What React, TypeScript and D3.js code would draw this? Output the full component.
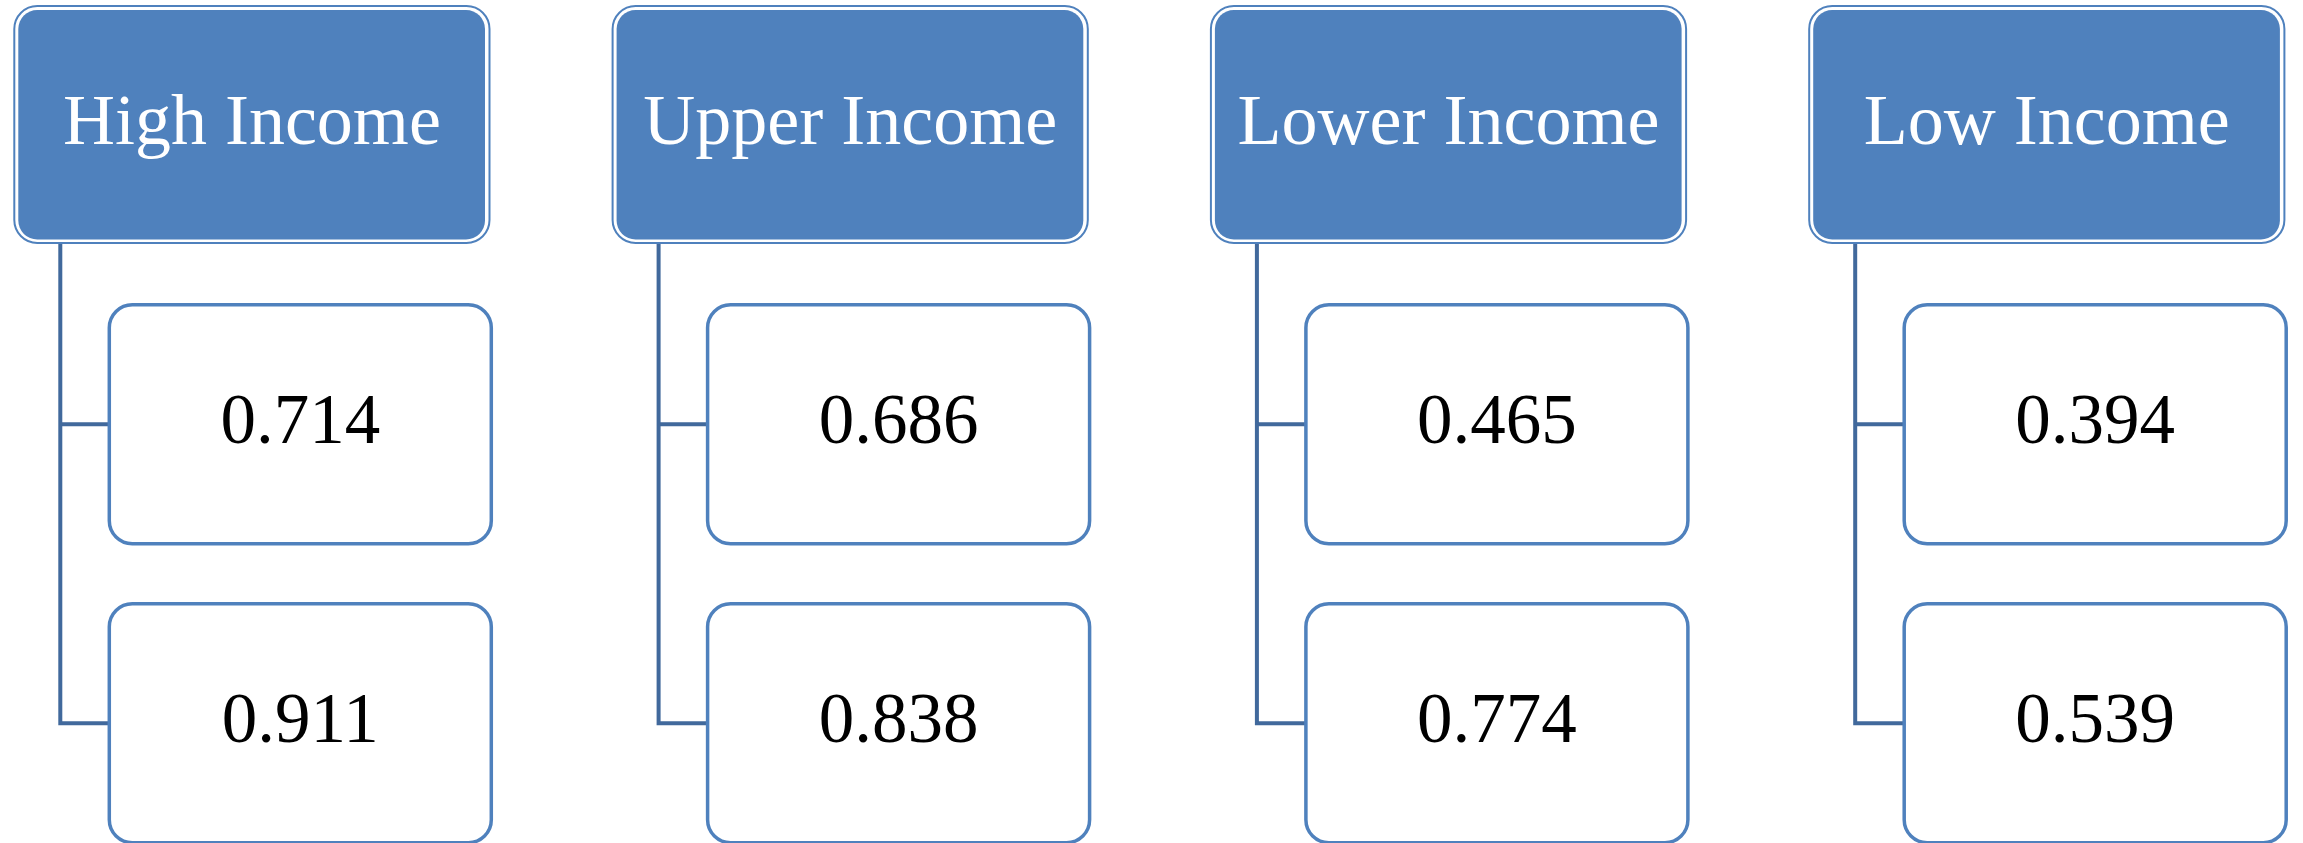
import React from "react";
import * as d3 from "d3";

const categories: string[] = ["High Income", "Upper Income", "Lower Income", "Low Income"];
const firstValues: string[] = ["0.714", "0.686", "0.465", "0.394"];
const secondValues: string[] = ["0.911", "0.838", "0.774", "0.539"];

const W = 2303;
const H = 843;
const BLUE = "#4F81BD";
const DARK = "#41699C";
const FONT = "'Liberation Serif', 'Times New Roman', serif";

export default function App() {
  const x = d3
    .scaleBand<string>()
    .domain(categories)
    .range([14.3, 14.3 + 3 * 598.3 + 475.2])
    .paddingInner(123.1 / 598.3)
    .paddingOuter(0);
  const hw = x.bandwidth();
  const headerTop = 6;
  const headerH = 237;
  const rows = [firstValues, secondValues];
  const rowY = d3.scaleLinear().domain([0, 1]).range([304.7, 603.7]);
  const childH = 239;
  const childDx = 95;
  const childW = 382;
  const connDx = 46;

  return (
    <svg
      width={W}
      height={H}
      style={{ position: "absolute", left: 0, top: 0, display: "block" }}
    >
      <rect x={0} y={0} width={W} height={H} fill="#ffffff" />
      {categories.map((c, ci) => {
        const hx = x(c) as number;
        const lastRowMid = rowY(rows.length - 1) + childH / 2;
        return (
          <g key={c}>
            <path
              d={
                `M${hx + connDx},${headerTop + headerH} L${hx + connDx},${lastRowMid} ` +
                rows
                  .map((_, ri) => {
                    const my = rowY(ri) + childH / 2;
                    return `M${hx + connDx},${my} L${hx + childDx},${my}`;
                  })
                  .join(" ")
              }
              fill="none"
              stroke={DARK}
              strokeWidth={4}
              strokeLinejoin="miter"
              strokeLinecap="square"
            />
            <rect
              x={hx}
              y={headerTop}
              width={hw}
              height={headerH}
              rx={23}
              fill="#ffffff"
              stroke={BLUE}
              strokeWidth={2}
            />
            <rect
              x={hx + 4}
              y={headerTop + 4}
              width={hw - 8.5}
              height={headerH - 7.5}
              rx={19}
              fill={BLUE}
            />
            <text
              x={hx + hw / 2}
              y={headerTop + headerH / 2 + 19}
              textAnchor="middle"
              fill="#ffffff"
              fontFamily={FONT}
              fontSize={72}
            >
              {c}
            </text>
            {rows.map((vals, ri) => {
              const cy = rowY(ri);
              return (
                <g key={ri}>
                  <rect
                    x={hx + childDx}
                    y={cy}
                    width={childW}
                    height={childH}
                    rx={23}
                    fill="#ffffff"
                    stroke={BLUE}
                    strokeWidth={3.5}
                  />
                  <text
                    x={hx + childDx + childW / 2}
                    y={cy + childH / 2 + 19}
                    textAnchor="middle"
                    fill="#000000"
                    fontFamily={FONT}
                    fontSize={71}
                  >
                    {vals[ci]}
                  </text>
                </g>
              );
            })}
          </g>
        );
      })}
    </svg>
  );
}
